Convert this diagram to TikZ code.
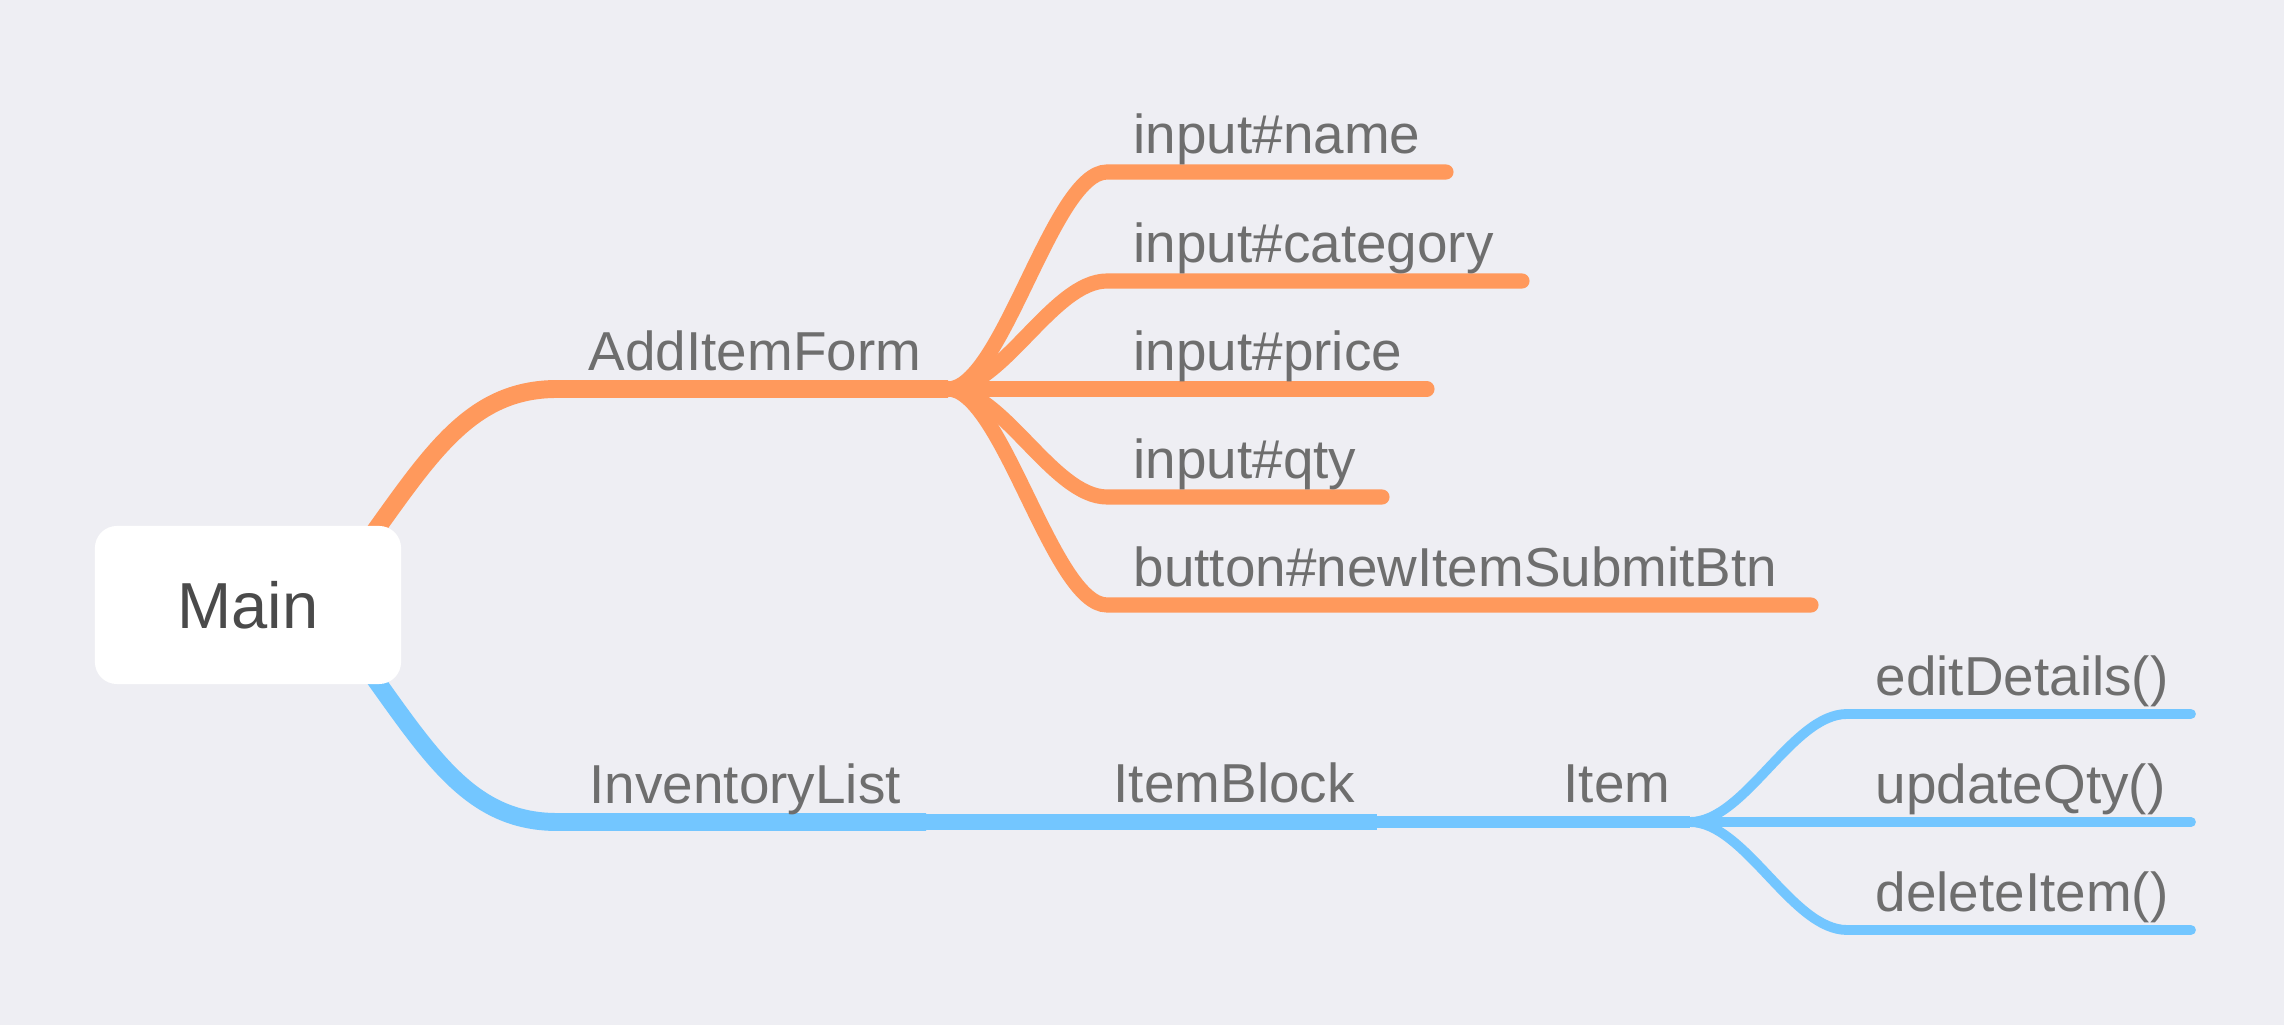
\documentclass[tikz,border=0pt]{standalone}
\usepackage{fontspec}
\setmainfont{Liberation Sans}
\definecolor{bg}{RGB}{238,238,243}
\definecolor{orng}{RGB}{255,153,92}
\definecolor{sky}{RGB}{115,198,255}
\definecolor{txt}{RGB}{110,110,110}
\definecolor{maintxt}{RGB}{74,74,74}

\begin{document}
\begin{tikzpicture}[x=0.01cm,y=-0.01cm,
  lbl/.style={anchor=base west,inner sep=0pt,text=txt,font=\fontsize{15.6pt}{19pt}\selectfont},
  rootbox/.style={fill=white,rounded corners=0.22cm,minimum width=3.06cm,minimum height=1.58cm,
    text=maintxt,font=\fontsize{18.5pt}{22pt}\selectfont}]

\fill[bg] (0,0) rectangle (2284,1025);

% orange branch
\coordinate (mainA) at (365,545);
\coordinate (formL) at (557,389);
\coordinate (formR) at (948,389);
\draw[orng,line width=5.1pt] (mainA) .. controls (430,455) and (470,389) .. (formL) -- (formR);
\node[lbl] (form) at (588,371) {AddItemForm};

\foreach \n/\y/\e/\t in {name/172/1446/input\#name,cat/281/1522/input\#category,
  price/389/1427/input\#price,qty/497/1382/input\#qty,btn/605/1811/button\#newItemSubmitBtn}
{
\coordinate (\n L) at (1107,\y);
\coordinate (\n R) at (\e,\y);
\draw[orng,line width=4.3pt,line cap=round]
  (formR) .. controls (1002,389) and (1053,\y) .. (\n L) -- (\n R);
\node[lbl] (\n) at (1133,{\y-18}) {\t};
}

% blue branch
\coordinate (mainB) at (365,665);
\coordinate (invL) at (557,822);
\coordinate (invR) at (926,822);
\coordinate (blkR) at (1377,822);
\coordinate (itmR) at (1690,822);
\draw[sky,line width=5.1pt] (mainB) .. controls (430,755) and (470,822) .. (invL) -- (invR);
\draw[sky,line width=4.3pt] (invR) -- (blkR);
\draw[sky,line width=3.2pt] (blkR) -- (itmR);
\node[lbl] (inv) at (589,804) {InventoryList};
\node[lbl] (blk) at (1113,803) {ItemBlock};
\node[lbl] (itm) at (1563,803) {Item};

\foreach \n/\y/\t in {edit/714/editDetails(),upd/822/updateQty(),del/930/deleteItem()}
{
\coordinate (\n L) at (1847,\y);
\coordinate (\n R) at (2191,\y);
\draw[sky,line width=2.8pt,line cap=round]
  (itmR) .. controls (1745,822) and (1792,\y) .. (\n L) -- (\n R);
\node[lbl] (\n) at (1875,{\y-18}) {\t};
}

\node[rootbox] (main) at (248,605) {Main};

\end{tikzpicture}
\end{document}
